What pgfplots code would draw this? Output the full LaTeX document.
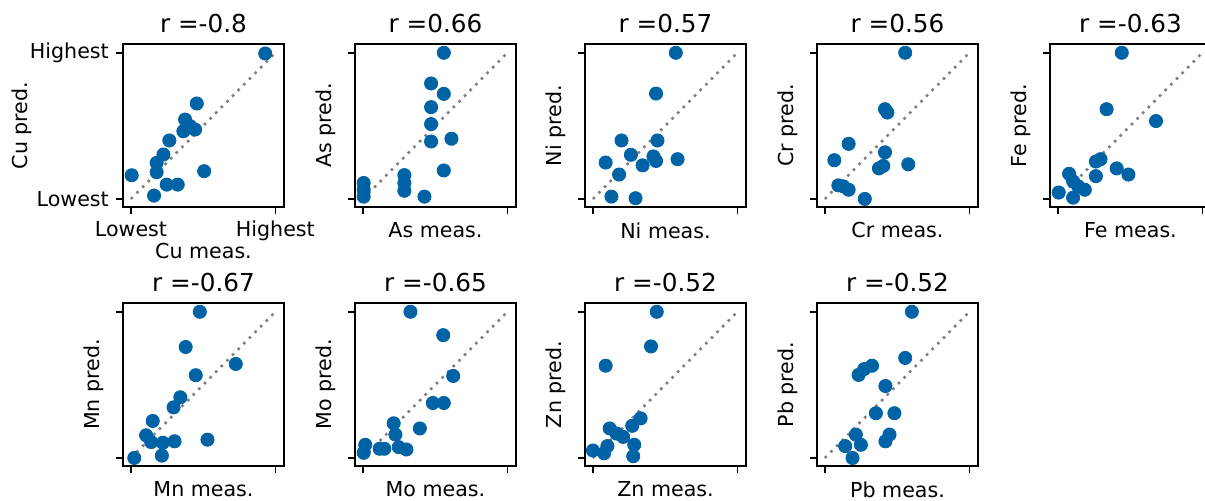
\documentclass[border=0pt]{standalone}
\usepackage{pgfplots}
\pgfplotsset{compat=1.18}
\usepackage{fontspec}
\setmainfont{DejaVu Sans}
\definecolor{dotblue}{RGB}{0,99,166}
\pgfplotsset{
 panel/.style={
  width=80.5pt, height=81.5pt, scale only axis,
  xmin=-0.055, xmax=1.06, ymin=-0.055, ymax=1.06,
  xtick={0,1}, ytick={0,1}, xticklabels={{},{}}, yticklabels={{},{}},
  tick pos=left, tick align=outside, major tick length=3.6pt,
  axis line style={line width=0.8pt},
  every tick/.style={black, line width=0.8pt},
  ticklabel style={font=\fontsize{10.3}{12}\selectfont},
  label style={font=\fontsize{10.3}{12}\selectfont, inner sep=0pt},
  xlabel style={at={(axis description cs:0.5,-0.092)}, anchor=north},
  ylabel style={at={(axis description cs:-0.115,0.5)}, anchor=south},
  every axis title shift=0pt,
  title style={font=\fontsize{12.35}{14}\selectfont, at={(axis description cs:0.5,1)}, anchor=base, yshift=5.5pt, inner sep=0pt},
  anchor=north west, clip=false
 },
 dots/.style={only marks, mark=*, mark size=3.3pt, color=dotblue, mark options={draw=dotblue, fill=dotblue}},
 diag/.style={gray, line width=1.3pt, dash pattern=on 1.3pt off 2.7pt, forget plot}
}
\begin{document}
\begin{tikzpicture}
\useasboundingbox (0,0) rectangle (602.5pt,-250.5pt);
% Cu
\begin{axis}[panel, at={(61.5pt,-22pt)}, title={r =-0.8}, xlabel={Cu meas.}, ylabel={Cu pred.},
  xticklabels={Lowest,Highest}, yticklabels={Lowest,Highest},
  xlabel style={at={(axis description cs:0.5,-0.222)}},
  ylabel style={at={(axis description cs:-0.565,0.5)}}]
\addplot[dots] coordinates {(0.93,0.995) (0.456,0.653) (0.375,0.543) (0.41,0.498) (0.444,0.475) (0.363,0.463) (0.266,0.40) (0.225,0.304) (0.178,0.247) (0.178,0.183) (0.005,0.162) (0.507,0.19) (0.248,0.098) (0.324,0.098) (0.16,0.023)};
\addplot[diag] coordinates {(0,0) (1,1)};
\end{axis}
% As
\begin{axis}[panel, at={(177.5pt,-22pt)}, title={r =0.66}, xlabel={As meas.}, ylabel={As pred.}]
\addplot[dots] coordinates {(0.56,1.0) (0.472,0.79) (0.56,0.719) (0.472,0.628) (0.472,0.512) (0.472,0.393) (0.613,0.412) (0.56,0.195) (0.287,0.163) (0.287,0.109) (0.287,0.056) (0.426,0.016) (0.005,0.109) (0.005,0.063) (0.005,0.016)};
\addplot[diag] coordinates {(0,0) (1,1)};
\end{axis}
% Ni
\begin{axis}[panel, at={(292.5pt,-22pt)}, title={r =0.57}, xlabel={Ni meas.}, ylabel={Ni pred.}]
\addplot[dots] coordinates {(0.574,1.0) (0.437,0.721) (0.198,0.40) (0.447,0.40) (0.263,0.302) (0.419,0.291) (0.437,0.26) (0.344,0.23) (0.586,0.272) (0.088,0.249) (0.181,0.167) (0.128,0.016) (0.295,0.005)};
\addplot[diag] coordinates {(0,0) (1,1)};
\end{axis}
% Cr
\begin{axis}[panel, at={(408.5pt,-22pt)}, title={r =0.56}, xlabel={Cr meas.}, ylabel={Cr pred.}]
\addplot[dots] coordinates {(0.556,1.0) (0.416,0.614) (0.432,0.591) (0.164,0.377) (0.416,0.319) (0.065,0.265) (0.374,0.209) (0.404,0.226) (0.577,0.237) (0.093,0.093) (0.128,0.086) (0.164,0.063) (0.276,0.0)};
\addplot[diag] coordinates {(0,0) (1,1)};
\end{axis}
% Fe
\begin{axis}[panel, at={(525pt,-22pt)}, title={r =-0.63}, xlabel={Fe meas.}, ylabel={Fe pred.}]
\addplot[dots] coordinates {(0.442,1.0) (0.337,0.614) (0.679,0.533) (0.295,0.272) (0.263,0.256) (0.407,0.209) (0.488,0.167) (0.263,0.156) (0.077,0.172) (0.105,0.121) (0.14,0.086) (0.186,0.063) (0.005,0.044) (0.105,0.009)};
\addplot[diag] coordinates {(0,0) (1,1)};
\end{axis}
% Mn
\begin{axis}[panel, at={(61.5pt,-151.5pt)}, title={r =-0.67}, xlabel={Mn meas.}, ylabel={Mn pred.}]
\addplot[dots] coordinates {(0.477,1.0) (0.379,0.759) (0.726,0.643) (0.449,0.566) (0.342,0.415) (0.295,0.346) (0.151,0.253) (0.105,0.155) (0.14,0.109) (0.221,0.104) (0.302,0.114) (0.53,0.125) (0.214,0.016) (0.023,0.0)};
\addplot[diag] coordinates {(0,0) (1,1)};
\end{axis}
% Mo
\begin{axis}[panel, at={(177.5pt,-151.5pt)}, title={r =-0.65}, xlabel={Mo meas.}, ylabel={Mo pred.}]
\addplot[dots] coordinates {(0.329,1.0) (0.556,0.84) (0.625,0.561) (0.484,0.376) (0.56,0.376) (0.213,0.237) (0.394,0.202) (0.225,0.16) (0.016,0.09) (0.005,0.035) (0.116,0.063) (0.148,0.063) (0.248,0.074) (0.301,0.058)};
\addplot[diag] coordinates {(0,0) (1,1)};
\end{axis}
% Zn
\begin{axis}[panel, at={(292.5pt,-151.5pt)}, title={r =-0.52}, xlabel={Zn meas.}, ylabel={Zn pred.}]
\addplot[dots] coordinates {(0.442,1.0) (0.402,0.763) (0.088,0.631) (0.33,0.271) (0.272,0.22) (0.116,0.202) (0.163,0.167) (0.209,0.144) (0.286,0.09) (0.1,0.081) (0.0,0.051) (0.077,0.032) (0.279,0.012)};
\addplot[diag] coordinates {(0,0) (1,1)};
\end{axis}
% Pb
\begin{axis}[panel, at={(408.5pt,-151.5pt)}, title={r =-0.52}, xlabel={Pb meas.}, ylabel={Pb pred.}]
\addplot[dots] coordinates {(0.602,1.0) (0.556,0.684) (0.326,0.631) (0.272,0.608) (0.233,0.568) (0.419,0.492) (0.353,0.306) (0.481,0.306) (0.214,0.16) (0.249,0.09) (0.447,0.16) (0.419,0.114) (0.14,0.081) (0.191,0.0)};
\addplot[diag] coordinates {(0,0) (1,1)};
\end{axis}
\end{tikzpicture}
\end{document}
